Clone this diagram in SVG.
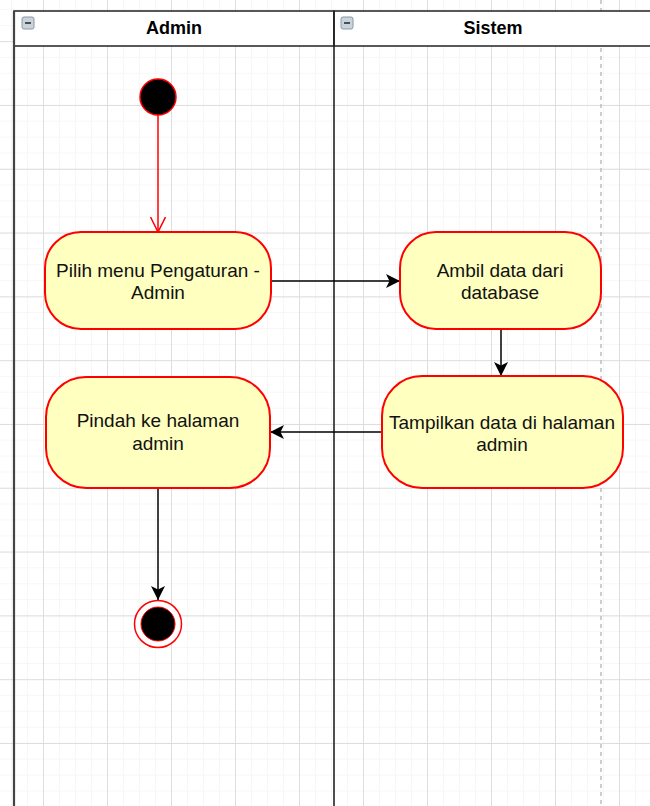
<svg xmlns="http://www.w3.org/2000/svg" width="650" height="806" viewBox="0 0 650 806">
<defs>
<pattern id="minor" patternUnits="userSpaceOnUse" x="11" y="9" width="16" height="15.95">
<path d="M0,0 V16 M0,0 H16" fill="none" stroke="#f0f0f0" stroke-width="1"/>
</pattern>
<pattern id="major" patternUnits="userSpaceOnUse" x="43" y="105" width="64" height="63.8">
<path d="M0.5,0 V64 M0,0.5 H64" fill="none" stroke="#dedede" stroke-width="1"/>
</pattern>
<marker id="arrBlack" markerUnits="userSpaceOnUse" markerWidth="16" markerHeight="14" refX="14" refY="7" orient="auto">
<path d="M0,0 L14,7 L0,14 L3.5,7 z" fill="#000"/>
</marker>
<marker id="arrRed" markerUnits="userSpaceOnUse" markerWidth="18" markerHeight="18" refX="15" refY="8" orient="auto">
<path d="M0,0.5 L15,8 L0,15.5" fill="none" stroke="#ff0000" stroke-width="1.5"/>
</marker>
</defs>
<style>
.act{fill:#ffffc0;stroke:#ff0000;stroke-width:2}
.lbl{font-family:"Liberation Sans",Arial,sans-serif;font-size:19px;fill:#111;text-anchor:middle}
.hdr{font-family:"Liberation Sans",Arial,sans-serif;font-size:18px;font-weight:bold;fill:#000;text-anchor:middle}
.edge{fill:none;stroke:#000;stroke-width:1.5}
</style>
<rect width="650" height="806" fill="#ffffff"/>
<rect width="650" height="806" fill="url(#minor)"/>
<rect width="650" height="806" fill="url(#major)"/>
<line x1="601" y1="0" x2="601" y2="806" stroke="#bdbdbd" stroke-width="1.5" stroke-dasharray="4,4"/>

<g id="lane-admin">
<rect x="14" y="11" width="320" height="35" fill="#ffffff" stroke="#222" stroke-width="1.5"/>
<line x1="14" y1="11" x2="14" y2="806" stroke="#444" stroke-width="2.2"/>
<rect x="22" y="17" width="12" height="12" rx="2" fill="#c9d3dc" stroke="#8a98a6" stroke-width="1"/>
<line x1="25" y1="23" x2="31" y2="23" stroke="#222" stroke-width="1.5"/>
<text class="hdr" x="174" y="34">Admin</text>
</g>
<g id="lane-sistem">
<rect x="334" y="11" width="320" height="35" fill="#ffffff" stroke="#222" stroke-width="1.5"/>
<line x1="334" y1="11" x2="334" y2="806" stroke="#222" stroke-width="1.6"/>
<rect x="341" y="17" width="12" height="12" rx="2" fill="#c9d3dc" stroke="#8a98a6" stroke-width="1"/>
<line x1="344" y1="23" x2="350" y2="23" stroke="#222" stroke-width="1.5"/>
<text class="hdr" x="493" y="34">Sistem</text>
</g>

<g id="connectors">
<line x1="158" y1="115" x2="158" y2="232" stroke="#ff0000" stroke-width="1.5" marker-end="url(#arrRed)"/>
<line class="edge" x1="271" y1="281" x2="400" y2="281" marker-end="url(#arrBlack)"/>
<line class="edge" x1="501" y1="329" x2="501" y2="376" marker-end="url(#arrBlack)"/>
<line class="edge" x1="382" y1="432" x2="270" y2="432" marker-end="url(#arrBlack)"/>
<line class="edge" x1="158" y1="488" x2="158" y2="600" marker-end="url(#arrBlack)"/>
</g>

<g id="start">
<circle cx="158" cy="97" r="18" fill="#000" stroke="#ff0000" stroke-width="1.5"/>
</g>
<g id="pilih-menu">
<rect class="act" x="45" y="232" width="226" height="97" rx="36" ry="36"/>
<text class="lbl" x="158" y="277">Pilih menu Pengaturan -</text>
<text class="lbl" x="158" y="299">Admin</text>
</g>
<g id="ambil-data">
<rect class="act" x="400" y="232" width="201" height="97" rx="36" ry="36"/>
<text class="lbl" x="500" y="277">Ambil data dari</text>
<text class="lbl" x="500" y="299">database</text>
</g>
<g id="tampilkan-data">
<rect class="act" x="382" y="376" width="241" height="112" rx="40" ry="40"/>
<text class="lbl" x="502" y="429">Tampilkan data di halaman</text>
<text class="lbl" x="502" y="451">admin</text>
</g>
<g id="pindah-halaman">
<rect class="act" x="46" y="377" width="224" height="111" rx="40" ry="40"/>
<text class="lbl" x="158" y="427">Pindah ke halaman</text>
<text class="lbl" x="158" y="450">admin</text>
</g>
<g id="end">
<circle cx="158" cy="624" r="23.5" fill="#ffffff" stroke="#ff0000" stroke-width="1.5"/>
<circle cx="158" cy="624" r="17" fill="#000" stroke="#ff0000" stroke-width="1"/>
</g>
</svg>
